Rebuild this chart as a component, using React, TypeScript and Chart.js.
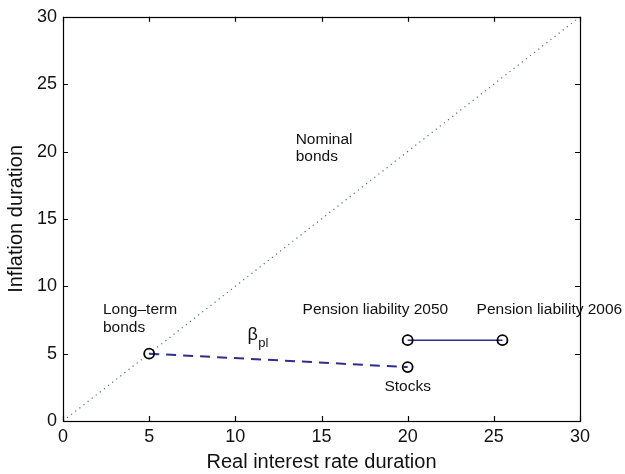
import React, { useEffect, useRef } from "react";
import { Chart, registerables } from "chart.js";

Chart.register(...registerables);

const tickValues = [0, 5, 10, 15, 20, 25, 30];
const diagonalX = [0, 30];
const diagonalY = [0, 30];
const betaLineX = [5, 20];
const betaLineY = [5, 4];
const pensionLineX = [20, 25.5];
const pensionLineY = [6, 6];
const markerX = [5, 20, 20, 25.5];
const markerY = [5, 4, 6, 6];
const labelTexts = ["Long–term", "bonds", "Nominal", "bonds", "Pension liability 2050", "Pension liability 2006", "Stocks"];
const labelX = [2.32, 2.32, 13.5, 13.5, 13.9, 24.0, 20];
const labelY = [8.25, 6.9, 20.9, 19.6, 8.25, 8.25, 2.55];
const labelAlign = ["left", "left", "left", "left", "left", "left", "center"];
const betaX = 10.7;
const betaY = 6.4;

const FONT = "'Liberation Sans', Arial, Helvetica, sans-serif";

const decorPlugin = {
  id: "decor",
  afterDatasetsDraw(chart: any) {
    const { ctx, chartArea, scales } = chart;
    const xs = scales.x;
    const ys = scales.y;
    const { left, right, top, bottom } = chartArea;
    ctx.save();
    ctx.strokeStyle = "#000";
    ctx.lineWidth = 1.2;
    ctx.strokeRect(Math.round(left) + 0.5, Math.round(top) + 0.5, Math.round(right - left), Math.round(bottom - top));
    const tl = 5;
    ctx.beginPath();
    tickValues.forEach((v) => {
      const px = Math.round(xs.getPixelForValue(v)) + 0.5;
      ctx.moveTo(px, bottom);
      ctx.lineTo(px, bottom - tl);
      ctx.moveTo(px, top);
      ctx.lineTo(px, top + tl);
      const py = Math.round(ys.getPixelForValue(v)) + 0.5;
      ctx.moveTo(left, py);
      ctx.lineTo(left + tl, py);
      ctx.moveTo(right, py);
      ctx.lineTo(right - tl, py);
    });
    ctx.stroke();

    ctx.fillStyle = "#111";
    ctx.textBaseline = "middle";
    ctx.font = `15.5px ${FONT}`;
    labelTexts.forEach((t, i) => {
      ctx.textAlign = labelAlign[i] as CanvasTextAlign;
      ctx.fillText(t, xs.getPixelForValue(labelX[i]), ys.getPixelForValue(labelY[i]));
    });
    const bx = xs.getPixelForValue(betaX);
    const by = ys.getPixelForValue(betaY);
    ctx.textAlign = "left";
    ctx.font = `18px ${FONT}`;
    ctx.fillText("β", bx, by);
    const bw = ctx.measureText("β").width;
    ctx.font = `13px ${FONT}`;
    ctx.fillText("pl", bx + bw + 0.5, by + 9);
    ctx.restore();
  },
};

export default function App() {
  const ref = useRef<HTMLCanvasElement>(null);
  useEffect(() => {
    document.body.style.margin = "0";
    const chart = new Chart(ref.current!, {
      type: "scatter",
      data: {
        datasets: [
          {
            data: diagonalX.map((x, i) => ({ x, y: diagonalY[i] })),
            showLine: true,
            borderColor: "rgb(80,115,100)",
            borderWidth: 1.2,
            borderDash: [1.2, 4],
            pointRadius: 0,
            order: 3,
          },
          {
            data: betaLineX.map((x, i) => ({ x, y: betaLineY[i] })),
            showLine: true,
            borderColor: "#2e2e8c",
            borderWidth: 2,
            borderDash: [10, 7],
            pointRadius: 0,
            order: 2,
          },
          {
            data: pensionLineX.map((x, i) => ({ x, y: pensionLineY[i] })),
            showLine: true,
            borderColor: "#2e2e8c",
            borderWidth: 1.5,
            pointRadius: 0,
            order: 2,
          },
          {
            data: markerX.map((x, i) => ({ x, y: markerY[i] })),
            showLine: false,
            pointRadius: 5,
            pointBorderWidth: 1.8,
            pointBorderColor: "#000",
            pointBackgroundColor: "rgba(0,0,0,0)",
            order: 1,
          },
        ],
      },
      options: {
        animation: false,
        responsive: false,
        events: [],
        layout: { padding: { left: 0, right: 45, top: 14, bottom: 0 } },
        plugins: { legend: { display: false }, tooltip: { enabled: false } },
        scales: {
          x: {
            type: "linear",
            min: 0,
            max: 30,
            afterFit: (s: any) => { s.height = 53; },
            afterBuildTicks: (s: any) => { s.ticks = tickValues.map((v) => ({ value: v })); },
            grid: { display: false, drawTicks: false, tickLength: 0 },
            border: { display: false },
            ticks: { color: "#111", font: { family: FONT, size: 18 }, padding: 5, maxRotation: 0 },
            title: { display: true, text: "Real interest rate duration", color: "#111", font: { family: FONT, size: 20, lineHeight: 1 }, padding: { top: 0, bottom: 2 } },
          },
          y: {
            type: "linear",
            min: 0,
            max: 30,
            afterFit: (s: any) => { s.width = 63; },
            afterBuildTicks: (s: any) => { s.ticks = tickValues.map((v) => ({ value: v })); },
            grid: { display: false, drawTicks: false, tickLength: 0 },
            border: { display: false },
            ticks: { color: "#111", font: { family: FONT, size: 18 }, padding: 6 },
            title: { display: true, text: "Inflation duration", color: "#111", font: { family: FONT, size: 20, lineHeight: 1 }, padding: { top: 6, bottom: 0 } },
          },
        },
      },
      plugins: [decorPlugin],
    });
    return () => chart.destroy();
  }, []);
  return (
    <div style={{ position: "absolute", left: 0, top: 0, width: 625, height: 474 }}>
      <canvas ref={ref} width={625} height={474} />
    </div>
  );
}
